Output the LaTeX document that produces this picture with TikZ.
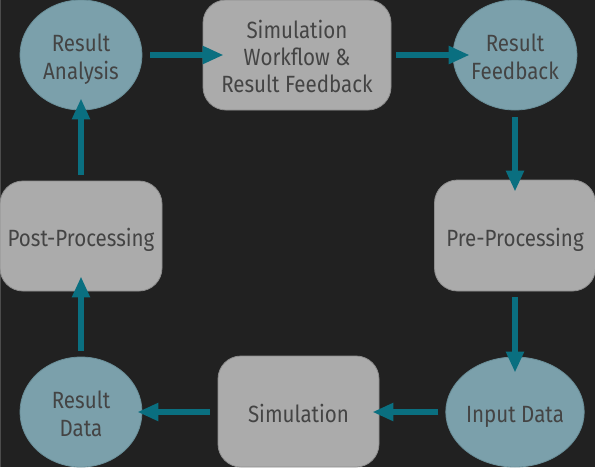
\documentclass[tikz,border=0pt]{standalone}
\usepackage{fontspec}
\setmainfont[FakeStretch=0.875]{Fira Sans}
\usetikzlibrary{arrows.meta,shapes.geometric}
\definecolor{bgc}{HTML}{212121}
\definecolor{boxc}{HTML}{ABABAB}
\definecolor{boxb}{HTML}{8E8E8E}
\definecolor{ellc}{HTML}{7BA0AB}
\definecolor{ellb}{HTML}{6A8F99}
\definecolor{arrc}{HTML}{0A6F80}
\definecolor{txtc}{HTML}{444444}
\newcommand{\tline}[1]{\rule[-1.5pt]{0pt}{24pt}\smash{#1}}
\tikzset{
  stepbox/.style={draw=boxb, line width=0.8pt, fill=boxc, rounded corners=23pt, inner sep=0pt, align=center, text=txtc, font=\fontsize{23.5}{27}\selectfont},
  stepell/.style={ellipse, draw=ellb, line width=0.8pt, fill=ellc, inner sep=0pt, align=center, text=txtc, font=\fontsize{23.5}{27.5}\selectfont},
  flow/.style={draw=arrc, line width=6pt, -{Triangle[length=21pt,width=17pt]}}
}
\begin{document}
\begin{tikzpicture}[x=1pt,y=-1pt]
\useasboundingbox (0,0) rectangle (595,467);
\fill[bgc] (0,0) rectangle (595,467);
\draw[color=black!70!white, line width=1pt] (0.5,0) -- (0.5,467);
% nodes
\node[stepell, minimum width=122pt, minimum height=110pt] (ra) at (81,55) {\tline{Result}\\\tline{Analysis}};
\node[stepbox, minimum width=188pt, minimum height=110pt] (sw) at (297,55) {\tline{Simulation}\\\tline{Workflow \&}\\\tline{Result Feedback}};
\node[stepell, minimum width=123pt, minimum height=110pt] (rf) at (515,55) {\tline{Result}\\\tline{Feedback}};
\node[stepbox, minimum width=161pt, minimum height=111pt] (pre) at (515,235.5) {\tline{Pre-Processing}};
\node[stepell, minimum width=123pt, minimum height=110pt] (inp) at (515,412) {\tline{Input Data}};
\node[stepbox, minimum width=161pt, minimum height=111pt] (sim) at (298.5,411.5) {\tline{Simulation}};
\node[stepell, minimum width=122pt, minimum height=110pt] (rd) at (81,412) {\tline{Result}\\\tline{Data}};
\node[stepbox, minimum width=162pt, minimum height=110pt] (post) at (81,236) {\tline{Post-Processing}};
% connectors
\draw[flow] ([xshift=8pt]ra.east) -- ([xshift=21pt]sw.west);
\draw[flow] ([xshift=5pt]sw.east) -- ([xshift=17pt]rf.west);
\draw[flow] ([yshift=-7pt]rf.south) -- ([yshift=-12pt]pre.north);
\draw[flow] ([yshift=-6pt]pre.south) -- ([yshift=-16pt]inp.north);
\draw[flow] ([xshift=-7pt]inp.west) -- ([xshift=-7pt]sim.east |- inp.west);
\draw[flow] ([xshift=-8pt]sim.west |- rd.east) -- ([xshift=-5pt]rd.east);
\draw[flow] ([yshift=6pt]rd.north) -- ([yshift=15pt]post.south);
\draw[flow] ([yshift=6pt]post.north) -- ([yshift=12pt]ra.south);
\end{tikzpicture}
\end{document}
